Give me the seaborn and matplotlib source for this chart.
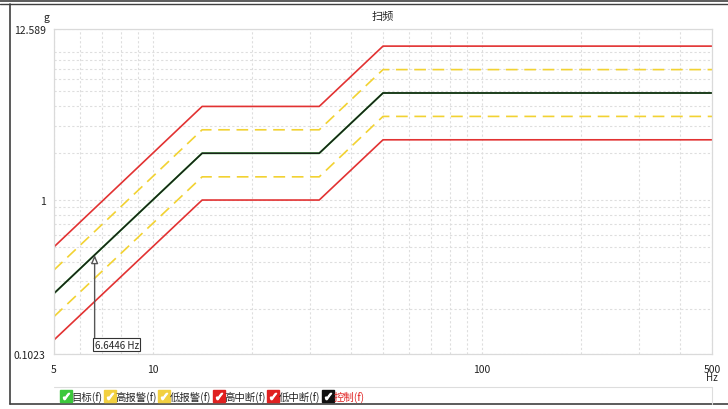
import numpy as np
import pandas as pd
import seaborn as sns
import matplotlib.pyplot as plt
from matplotlib.lines import Line2D
from matplotlib.legend_handler import HandlerTuple
from matplotlib.ticker import FixedLocator, LogLocator, NullFormatter

# sweep profile (Hz / g)
freq = [5, 14.1, 32, 50, 500]
target = [0.251, 2.0, 2.0, 4.88, 4.88]
control = [0.251, 2.0, 2.0, 4.88, 4.88]
high_alarm = [0.355, 2.83, 2.83, 6.9, 6.9]
low_alarm = [0.178, 1.41, 1.41, 3.45, 3.45]
high_abort = [0.50, 4.0, 4.0, 9.77, 9.77]
low_abort = [0.126, 1.0, 1.0, 2.44, 2.44]

x_ticks = [5, 10, 100, 500]
x_labels = ["5", "10", "100", "500"]
y_ticks = [0.1023, 1, 12.589]
y_labels = ["0.1023", "1", "12.589"]

cursor_freq = 6.6446
cursor_amp = 0.443

legend_labels = ["目标(f)", "高报警(f)", "低报警(f)", "高中断(f)", "低中断(f)", "控制(f)"]

sns.set_theme(style="white")
plt.rcParams['font.family'] = ['Noto Sans CJK SC', 'DejaVu Sans']
plt.rcParams['axes.unicode_minus'] = False

fig = plt.figure(figsize=(7.28, 4.10), dpi=100)
ax = fig.add_axes([54 / 728, 1 - 355 / 410, (712 - 54) / 728, (355 - 30) / 410])

red = "#e23232"
yellow = "#f2d232"
green = "#2fa02f"

sns.lineplot(x=freq, y=high_abort, ax=ax, color=red, lw=1.2)
sns.lineplot(x=freq, y=low_abort, ax=ax, color=red, lw=1.2)
sns.lineplot(x=freq, y=high_alarm, ax=ax, color=yellow, lw=1.2, dashes=False, linestyle=(0, (7, 4)))
sns.lineplot(x=freq, y=low_alarm, ax=ax, color=yellow, lw=1.2, dashes=False, linestyle=(0, (7, 4)))
sns.lineplot(x=freq, y=target, ax=ax, color=green, lw=1.4)
sns.lineplot(x=freq, y=control, ax=ax, color="#1a1a1a", lw=1.0)

ax.set_xscale("log")
ax.set_yscale("log")
ax.set_xlim(5, 500)
ax.set_ylim(0.1023, 12.589)

ax.xaxis.set_major_locator(FixedLocator(x_ticks))
ax.set_xticklabels(x_labels)
ax.xaxis.set_minor_locator(LogLocator(base=10, subs=np.arange(2, 10)))
ax.xaxis.set_minor_formatter(NullFormatter())
ax.yaxis.set_major_locator(FixedLocator(y_ticks))
ax.set_yticklabels(y_labels)
ax.yaxis.set_minor_locator(LogLocator(base=10, subs=np.arange(2, 10)))
ax.yaxis.set_minor_formatter(NullFormatter())

ax.tick_params(axis="both", which="both", length=0, labelsize=7.5, colors="#222222")
ax.tick_params(axis="x", pad=7)
ax.tick_params(axis="y", pad=6)
ax.grid(True, which="both", linestyle=(0, (2, 2)), color="#dedede", lw=0.8)
for s in ax.spines.values():
    s.set_color("#dadada")
    s.set_linewidth(0.9)

ax.set_title("扫频", fontsize=8, pad=7)
ax.text(-0.012, 1.036, "g", transform=ax.transAxes, ha="center", va="center", fontsize=7.5)
ax.text(1.0, -0.072, "Hz", transform=ax.transAxes, ha="center", va="center", fontsize=7)

ax.annotate("6.6446 Hz", xy=(cursor_freq, cursor_amp), xytext=(cursor_freq, 0.109),
            fontsize=7, ha="left", va="bottom",
            bbox=dict(boxstyle="square,pad=0.15", fc="white", ec="#333333", lw=0.8),
            arrowprops=dict(arrowstyle="-|>,head_length=0.7,head_width=0.3", fc="white",
                            ec="#555555", lw=1.0, relpos=(0, 1), shrinkA=0, shrinkB=0))

# legend with check boxes
box_colors = ["#3cc83c", "#f2d040", "#f2d040", "#e02020", "#e02020", "#111111"]
handles = []
for c in box_colors:
    sq = Line2D([], [], marker="s", ms=8, color=c, lw=0)
    ck = Line2D([], [], marker="$\\checkmark$", ms=4.5, color="white", lw=0)
    handles.append((sq, ck))
leg = fig.legend(handles, legend_labels, loc="center left", bbox_to_anchor=(52 / 728, 1 - 397 / 410),
                 ncol=6, frameon=False, fontsize=7.5, handlelength=0.8, handletextpad=0.15,
                 columnspacing=0.3, handler_map={tuple: HandlerTuple(ndivide=1)})
leg.get_texts()[-1].set_color("#e02020")

# outer panel frame
frame_kw = dict(transform=fig.transFigure, color="#404040")
fig.add_artist(Line2D([0, 1], [1 - 2 / 410, 1 - 2 / 410], lw=1.2, **frame_kw))
fig.add_artist(Line2D([0, 1], [1 - 5 / 410, 1 - 5 / 410], lw=1.0, **frame_kw))
fig.add_artist(Line2D([10 / 728, 10 / 728], [1 - 5 / 410, 1 - 405 / 410], lw=1.2, **frame_kw))
fig.add_artist(Line2D([10 / 728, 1], [1 - 405 / 410, 1 - 405 / 410], lw=1.2, **frame_kw))
fig.add_artist(Line2D([54 / 728, 712 / 728], [1 - 388 / 410, 1 - 388 / 410], lw=0.8,
                      transform=fig.transFigure, color="#dddddd"))
fig.add_artist(Line2D([712 / 728, 712 / 728], [1 - 388 / 410, 1 - 405 / 410], lw=0.8,
                      transform=fig.transFigure, color="#dddddd"))

fig.savefig("out.png", dpi=100)
